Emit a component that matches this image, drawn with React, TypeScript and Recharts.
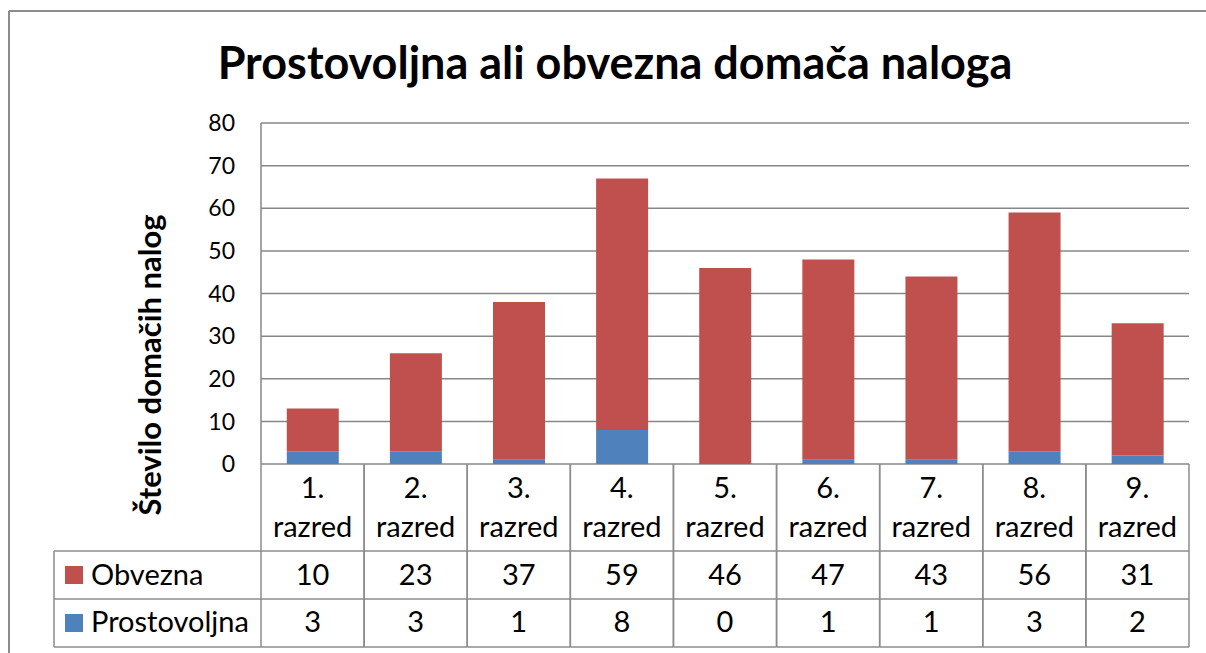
import React from 'react';
import { BarChart, Bar, XAxis, YAxis, CartesianGrid } from 'recharts';

const CATEGORIES = ['1. razred', '2. razred', '3. razred', '4. razred', '5. razred', '6. razred', '7. razred', '8. razred', '9. razred'];
const OBVEZNA = [10, 23, 37, 59, 46, 47, 43, 56, 31];
const PROSTOVOLJNA = [3, 3, 1, 8, 0, 1, 1, 3, 2];
const Y_TICKS = [0, 10, 20, 30, 40, 50, 60, 70, 80];

const W = 1206;
const H = 653;
const PLOT_LEFT = 261;
const PLOT_RIGHT = 1189;
const PLOT_TOP = 123;
const PLOT_BOTTOM = 464;
const ROW1 = 551;
const ROW2 = 599;
const TABLE_BOTTOM = 647;
const TABLE_LEFT = 54;
const COL_W = (PLOT_RIGHT - PLOT_LEFT) / CATEGORIES.length;

const RED = '#C0504D';
const BLUE = '#4F81BD';
const GRID = '#878787';
const BORDER = '#8C8C8C';
const FONT = 'Lato, sans-serif';

const data = CATEGORIES.map((c, i) => ({
  name: c,
  Obvezna: OBVEZNA[i],
  Prostovoljna: PROSTOVOLJNA[i]
}));

// one column of the data table under each category
const TableColumn = (props: any) => {
  const { x, payload } = props;
  const i = payload.index;
  const left = x - COL_W / 2;
  const right = x + COL_W / 2;
  const [line1, line2] = CATEGORIES[i].split(' ');
  const txt = { fontFamily: FONT, fontSize: 29, fill: '#000', textAnchor: 'middle' as const };
  return (
    <g>
      <line x1={left} y1={PLOT_BOTTOM} x2={left} y2={TABLE_BOTTOM} stroke={BORDER} strokeWidth={1.5} />
      <line x1={right} y1={PLOT_BOTTOM} x2={right} y2={TABLE_BOTTOM} stroke={BORDER} strokeWidth={1.5} />
      <line x1={left} y1={ROW1} x2={right} y2={ROW1} stroke={BORDER} strokeWidth={1.5} />
      <line x1={left} y1={ROW2} x2={right} y2={ROW2} stroke={BORDER} strokeWidth={1.5} />
      <line x1={left} y1={TABLE_BOTTOM} x2={right} y2={TABLE_BOTTOM} stroke={BORDER} strokeWidth={1.5} />
      <text x={x} y={498} {...txt}>{line1}</text>
      <text x={x} y={537} {...txt}>{line2}</text>
      <text x={x} y={585} {...txt}>{OBVEZNA[i]}</text>
      <text x={x} y={632} {...txt}>{PROSTOVOLJNA[i]}</text>
    </g>
  );
};

export default function App() {
  return (
    <div style={{ position: 'absolute', left: 0, top: 0, width: W, height: H, background: '#fff', fontFamily: FONT }}>
      <BarChart
        width={W}
        height={H}
        data={data}
        margin={{ top: PLOT_TOP, right: W - PLOT_RIGHT, bottom: 0, left: 0 }}
        barCategoryGap="25%"
      >
        <CartesianGrid vertical={false} stroke={GRID} strokeWidth={1.5} />
        <XAxis
          dataKey="name"
          height={H - PLOT_BOTTOM}
          axisLine={false}
          tickLine={false}
          interval={0}
          tick={<TableColumn />}
        />
        <YAxis
          width={PLOT_LEFT}
          domain={[0, 80]}
          ticks={Y_TICKS}
          interval={0}
          axisLine={{ stroke: GRID, strokeWidth: 1.5 }}
          tickLine={false}
          tickSize={0}
          tickMargin={26}
          tick={{ fill: '#000', fontSize: 23, fontFamily: FONT }}
        />
        <Bar dataKey="Prostovoljna" stackId="a" fill={BLUE} isAnimationActive={false} />
        <Bar dataKey="Obvezna" stackId="a" fill={RED} isAnimationActive={false} />
      </BarChart>

      <svg width={W} height={H} style={{ position: 'absolute', left: 0, top: 0, pointerEvents: 'none' }}>
        <line x1={9} y1={11} x2={W} y2={11} stroke={BORDER} strokeWidth={2} />
        <line x1={9} y1={11} x2={9} y2={H} stroke={BORDER} strokeWidth={2} />

        <text x={615} y={79} textAnchor="middle" fontFamily={FONT} fontWeight="bold" fontSize={45} fill="#000">
          Prostovoljna ali obvezna domača naloga
        </text>
        <text
          x={161}
          y={365}
          transform="rotate(-90 161 365)"
          textAnchor="middle"
          fontFamily={FONT}
          fontWeight="bold"
          fontSize={31}
          fill="#000"
        >
          Število domačih nalog
        </text>

        {/* legend column of the data table */}
        <line x1={TABLE_LEFT} y1={ROW1} x2={PLOT_LEFT} y2={ROW1} stroke={BORDER} strokeWidth={1.5} />
        <line x1={TABLE_LEFT} y1={ROW2} x2={PLOT_LEFT} y2={ROW2} stroke={BORDER} strokeWidth={1.5} />
        <line x1={TABLE_LEFT} y1={TABLE_BOTTOM} x2={PLOT_LEFT} y2={TABLE_BOTTOM} stroke={BORDER} strokeWidth={1.5} />
        <line x1={TABLE_LEFT} y1={ROW1} x2={TABLE_LEFT} y2={TABLE_BOTTOM} stroke={BORDER} strokeWidth={1.5} />
        <rect x={65} y={566} width={18} height={18} fill={RED} />
        <text x={91} y={585} fontFamily={FONT} fontSize={29} fill="#000">Obvezna</text>
        <rect x={65} y={614} width={18} height={18} fill={BLUE} />
        <text x={91} y={632} fontFamily={FONT} fontSize={29} fill="#000">Prostovoljna</text>
      </svg>
    </div>
  );
}
